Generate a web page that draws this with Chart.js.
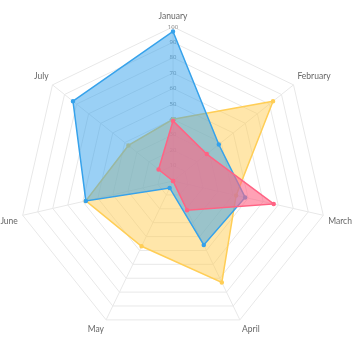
<!DOCTYPE html>
<html lang="en">
<head>
  <title>Radar</title>
  <script src="https://cdn.jsdelivr.net/npm/chart.js"></script>
  <style>
    html, body { margin: 0; padding: 0; background: #fff; overflow: hidden; }
    #chart { width: 358px; height: 349px; margin-left: -2px; margin-top: 2px; }
  </style>
</head>
<body>
  <div id="chart">
    <canvas id="myChart"></canvas>
  </div>
  <script>
    const months = ['January', 'February', 'March', 'April', 'May', 'June', 'July'];
    const blueValues = [97, 38, 48, 46, 5, 58, 83];
    const yellowValues = [40, 83, 42, 73, 47, 58, 37];
    const pinkValues = [39, 28, 67, 21, 0, 0, 12];

    var ctx = document.getElementById('myChart').getContext('2d');
    // first dataset is drawn on top, so pink goes first
    var myChart = new Chart(ctx, {
      type: 'radar',
      data: {
        labels: months,
        datasets: [{
          label: 'Pink',
          data: pinkValues,
          backgroundColor: 'rgba(255, 99, 132, 0.6)',
          borderColor: 'rgba(255, 99, 132, 1)',
          pointBackgroundColor: 'rgba(255, 99, 132, 1)',
          borderWidth: 1.5,
          pointRadius: 1.5
        }, {
          label: 'Blue',
          data: blueValues,
          backgroundColor: 'rgba(54, 162, 235, 0.5)',
          borderColor: 'rgba(54, 162, 235, 1)',
          pointBackgroundColor: 'rgba(54, 162, 235, 1)',
          borderWidth: 1.5,
          pointRadius: 1.5
        }, {
          label: 'Yellow',
          data: yellowValues,
          backgroundColor: 'rgba(255, 206, 86, 0.5)',
          borderColor: 'rgba(255, 206, 86, 1)',
          pointBackgroundColor: 'rgba(255, 206, 86, 1)',
          borderWidth: 1.5,
          pointRadius: 1.5
        }]
      },
      options: {
        responsive: true,
        maintainAspectRatio: false,
        animation: false,
        plugins: {
          legend: { display: false },
          tooltip: { enabled: false }
        },
        scales: {
          r: {
            min: 0,
            max: 100,
            ticks: {
              stepSize: 10,
              showLabelBackdrop: false,
              color: '#888',
              font: { family: 'Open Sans', size: 6 }
            },
            grid: { color: '#e8e8e8' },
            angleLines: { color: '#e8e8e8' },
            pointLabels: {
              color: '#666',
              padding: 0,
              font: { family: 'Lato', size: 8.5 }
            }
          }
        }
      }
    });
  </script>
</body>
</html>
